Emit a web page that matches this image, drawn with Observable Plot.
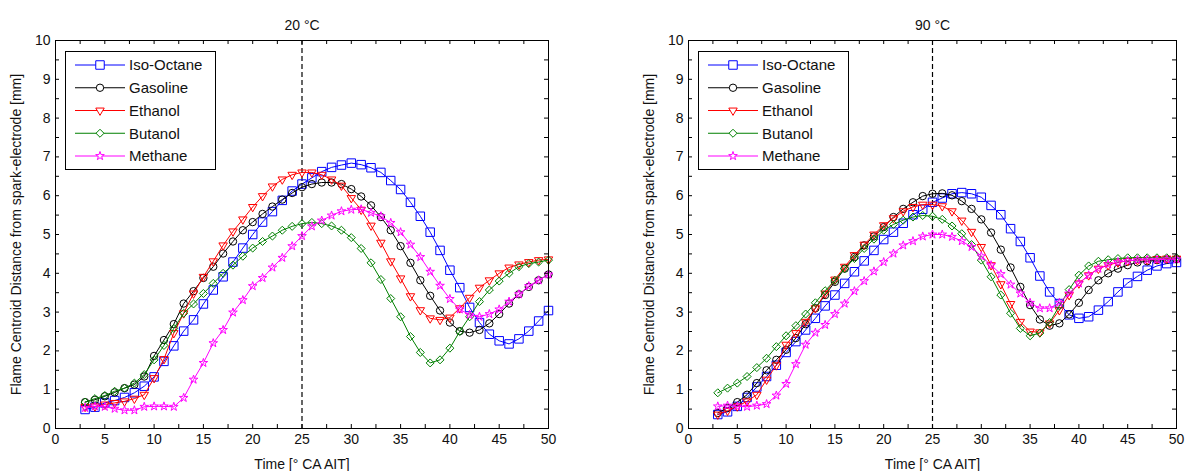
<!DOCTYPE html>
<html><head><meta charset="utf-8">
<script src="https://cdn.jsdelivr.net/npm/d3@7"></script>
<script src="https://cdn.jsdelivr.net/npm/@observablehq/plot@0.6"></script>
<style>
body{margin:0;background:#fff;width:1189px;height:471px;overflow:hidden;position:relative;font-family:"Liberation Sans",Arial,sans-serif}
#left{position:absolute;left:0;top:0}
#right{position:absolute;left:594px;top:0}
</style></head><body>
<div id="left"></div><div id="right"></div>
<script>
// ---- data ----
const time = [3,4,5,6,7,8,9,10,11,12,13,14,15,16,17,18,19,20,21,22,23,24,25,26,27,28,29,30,31,32,33,34,35,36,37,38,39,40,41,42,43,44,45,46,47,48,49,50];
const seriesNames = ["Iso-Octane","Gasoline","Ethanol","Butanol","Methane"];
const xTickLabels = [0,5,10,15,20,25,30,35,40,45,50];
const yTickLabels = [0,1,2,3,4,5,6,7,8,9,10];
const xMinorTicks = [2.5,5,7.5,10,12.5,15,17.5,20,22.5,25,27.5,30,32.5,35,37.5,40,42.5,45,47.5];
const yMinorTicks = [0.5,1,1.5,2,2.5,3,3.5,4,4.5,5,5.5,6,6.5,7,7.5,8,8.5,9,9.5];
const referenceTime = [25];

// 20 °C
const isoOctane20 = [0.49,0.55,0.66,0.72,0.80,0.92,1.09,1.33,1.73,2.13,2.51,2.80,3.21,3.57,3.91,4.29,4.65,5.00,5.32,5.59,5.88,6.12,6.30,6.46,6.62,6.73,6.79,6.84,6.80,6.72,6.60,6.39,6.16,5.83,5.47,5.06,4.59,4.08,3.63,3.12,2.73,2.43,2.26,2.18,2.31,2.51,2.77,3.04];
const gasoline20 = [0.68,0.74,0.83,0.93,1.04,1.13,1.34,1.87,2.28,2.69,3.22,3.54,3.88,4.17,4.51,4.82,5.11,5.32,5.53,5.72,5.90,6.07,6.22,6.30,6.34,6.34,6.30,6.17,5.98,5.75,5.45,5.11,4.70,4.27,3.82,3.42,3.04,2.73,2.51,2.47,2.54,2.71,2.95,3.22,3.46,3.65,3.82,3.97];
const ethanol20 = [0.56,0.57,0.62,0.66,0.70,0.77,0.87,1.30,1.79,2.46,2.97,3.48,3.91,4.31,4.72,5.08,5.39,5.71,5.99,6.24,6.42,6.54,6.60,6.60,6.54,6.42,6.26,5.94,5.64,5.23,4.79,4.31,3.87,3.41,3.05,2.84,2.80,2.86,3.10,3.37,3.63,3.82,4.00,4.15,4.23,4.29,4.34,4.36];
const butanol20 = [0.68,0.77,0.85,0.96,1.04,1.17,1.39,1.77,2.14,2.58,2.97,3.21,3.48,3.74,4.00,4.21,4.44,4.65,4.82,4.96,5.11,5.21,5.28,5.31,5.28,5.22,5.11,4.92,4.64,4.27,3.84,3.35,2.88,2.37,1.96,1.69,1.77,2.07,2.50,2.88,3.27,3.57,3.80,4.00,4.17,4.25,4.29,4.34];
const methane20 = [0.53,0.57,0.56,0.51,0.47,0.47,0.56,0.57,0.57,0.56,0.79,1.26,1.69,2.20,2.54,2.99,3.31,3.67,3.88,4.15,4.40,4.70,4.96,5.21,5.36,5.49,5.60,5.64,5.65,5.56,5.47,5.30,5.06,4.74,4.42,4.04,3.68,3.34,3.07,2.93,2.88,2.95,3.07,3.27,3.46,3.67,3.82,3.97];

// 90 °C
const isoOctane90 = [0.36,0.43,0.57,0.80,1.07,1.34,1.63,1.96,2.24,2.54,2.84,3.16,3.44,3.74,4.04,4.32,4.59,4.87,5.06,5.29,5.51,5.65,5.83,5.94,6.05,6.08,6.05,5.96,5.75,5.51,5.15,4.82,4.40,3.93,3.52,3.22,2.93,2.84,2.88,3.05,3.27,3.52,3.75,3.92,4.08,4.19,4.25,4.28];
const gasoline90 = [0.40,0.53,0.68,0.87,1.17,1.50,1.77,2.03,2.33,2.69,3.10,3.44,3.78,4.12,4.42,4.72,4.95,5.19,5.45,5.66,5.83,5.99,6.05,6.06,6.01,5.86,5.66,5.39,5.05,4.61,4.15,3.65,3.18,2.81,2.65,2.71,2.94,3.24,3.57,3.82,4.00,4.12,4.21,4.28,4.31,4.34,4.35,4.36];
const ethanol90 = [0.36,0.46,0.57,0.70,0.87,1.26,1.63,2.16,2.46,2.75,3.10,3.48,3.84,4.17,4.47,4.74,5.00,5.24,5.42,5.60,5.71,5.77,5.77,5.73,5.60,5.36,5.07,4.68,4.21,3.72,3.21,2.75,2.50,2.48,2.71,3.05,3.44,3.74,3.95,4.12,4.21,4.28,4.32,4.34,4.35,4.37,4.38,4.38];
const butanol90 = [0.92,1.04,1.17,1.34,1.57,1.81,2.11,2.39,2.65,2.95,3.24,3.55,3.82,4.12,4.38,4.64,4.88,5.11,5.26,5.37,5.45,5.49,5.47,5.39,5.22,5.02,4.74,4.34,3.91,3.44,2.97,2.58,2.39,2.46,2.73,3.16,3.58,3.95,4.19,4.31,4.35,4.38,4.40,4.40,4.40,4.40,4.40,4.40];
const methane90 = [0.57,0.59,0.57,0.56,0.59,0.63,0.85,1.15,1.66,2.16,2.47,2.67,2.95,3.22,3.54,3.80,4.05,4.29,4.51,4.72,4.83,4.95,5.00,5.00,4.94,4.83,4.68,4.44,4.21,3.98,3.71,3.48,3.24,3.10,3.10,3.24,3.48,3.74,3.95,4.12,4.23,4.29,4.32,4.34,4.35,4.35,4.36,4.36];

// ---- styles ----
const styles = [
  {color:"#0000ff", symbol:"square", d3sym:d3.symbolSquare, size:72, rotate:0},
  {color:"#000000", symbol:"circle", d3sym:d3.symbolCircle, size:43, rotate:0},
  {color:"#ff0000", symbol:"triangle", d3sym:d3.symbolTriangle, size:31, rotate:180},
  {color:"#008000", symbol:"diamond2", d3sym:d3.symbolDiamond2, size:41, rotate:0},
  {color:"#ff00ff", symbol:"star", d3sym:d3.symbolStar, size:23, rotate:0}
];
const FONT = '"Liberation Sans", Arial, sans-serif';

function panel(title, values, width, mLeft, mRight) {
  const H = 471, mTop = 40, mBottom = 43;
  const plotH = H - mTop - mBottom, plotW = width - mLeft - mRight;
  const marks = [];
  marks.push(Plot.ruleX(referenceTime, {stroke:"#000", strokeDasharray:"5,3", strokeWidth:1.2}));
  values.forEach((vals, i) => {
    const s = styles[i];
    const data = time.map((t, j) => ({t, v: vals[j]}));
    marks.push(Plot.line(data, {x:"t", y:"v", stroke:s.color, strokeWidth:1}));
    marks.push(Plot.dot(data, {x:"t", y:"v", symbol:s.symbol, r:Math.sqrt(s.size/Math.PI), stroke:s.color, fill:"none", strokeWidth:1, rotate:s.rotate}));
  });
  // inward minor/major ticks on four sides
  marks.push(Plot.ruleX(xMinorTicks, {insetTop: plotH - 4, stroke:"#000"}));
  marks.push(Plot.ruleX(xMinorTicks, {insetBottom: plotH - 4, stroke:"#000"}));
  marks.push(Plot.ruleY(yMinorTicks, {insetRight: plotW - 4, stroke:"#000"}));
  marks.push(Plot.ruleY(yMinorTicks, {insetLeft: plotW - 4, stroke:"#000"}));
  marks.push(Plot.frame({stroke:"#000"}));
  marks.push(Plot.axisX(xTickLabels, {tickSize:0, tickPadding:6, label:"Time [° CA AIT]", labelAnchor:"center", labelArrow:"none", labelOffset:40, fill:"#111"}));
  marks.push(Plot.axisY(yTickLabels, {tickSize:0, tickPadding:5, label:"Flame Centroid Distance from spark-electrode [mm]", labelAnchor:"center", labelArrow:"none", labelOffset:44, fill:"#111"}));
  marks.push(Plot.text([title], {frameAnchor:"top", dy:-11, lineAnchor:"bottom", fill:"#111", fontSize:14}));
  const svg = Plot.plot({
    width, height:H, marginTop:mTop, marginBottom:mBottom, marginLeft:mLeft, marginRight:mRight,
    x:{domain:[0,50]}, y:{domain:[0,10]},
    style:{fontFamily:FONT, fontSize:"14px", color:"#111", background:"#fff"},
    marks
  });
  // legend box
  const g = d3.select(svg).append("g");
  const bx = mLeft + 10, by = mTop + 11, bw = 150, bh = 118;
  g.append("rect").attr("x", bx+0.5).attr("y", by+0.5).attr("width", bw).attr("height", bh)
    .attr("fill","#fff").attr("stroke","#000");
  seriesNames.forEach((name, i) => {
    const s = styles[i];
    const yy = by + 14 + i * 22.75;
    g.append("line").attr("x1", bx+10).attr("x2", bx+60).attr("y1", yy).attr("y2", yy).attr("stroke", s.color);
    g.append("path").attr("d", d3.symbol(s.d3sym, s.size)()).attr("transform", `translate(${bx+35},${yy}) rotate(${s.rotate})`)
      .attr("fill","#fff").attr("stroke", s.color);
    g.append("text").attr("x", bx+64).attr("y", yy).attr("dy","0.35em").attr("font-size", 15).attr("fill","#111")
      .attr("text-anchor","start").attr("font-family", FONT).text(name);
  });
  return svg;
}

document.getElementById("left").appendChild(panel("20 °C", [isoOctane20, gasoline20, ethanol20, butanol20, methane20], 594, 55, 46));
document.getElementById("right").appendChild(panel("90 °C", [isoOctane90, gasoline90, ethanol90, butanol90, methane90], 595, 94, 13));
</script>
</body></html>
